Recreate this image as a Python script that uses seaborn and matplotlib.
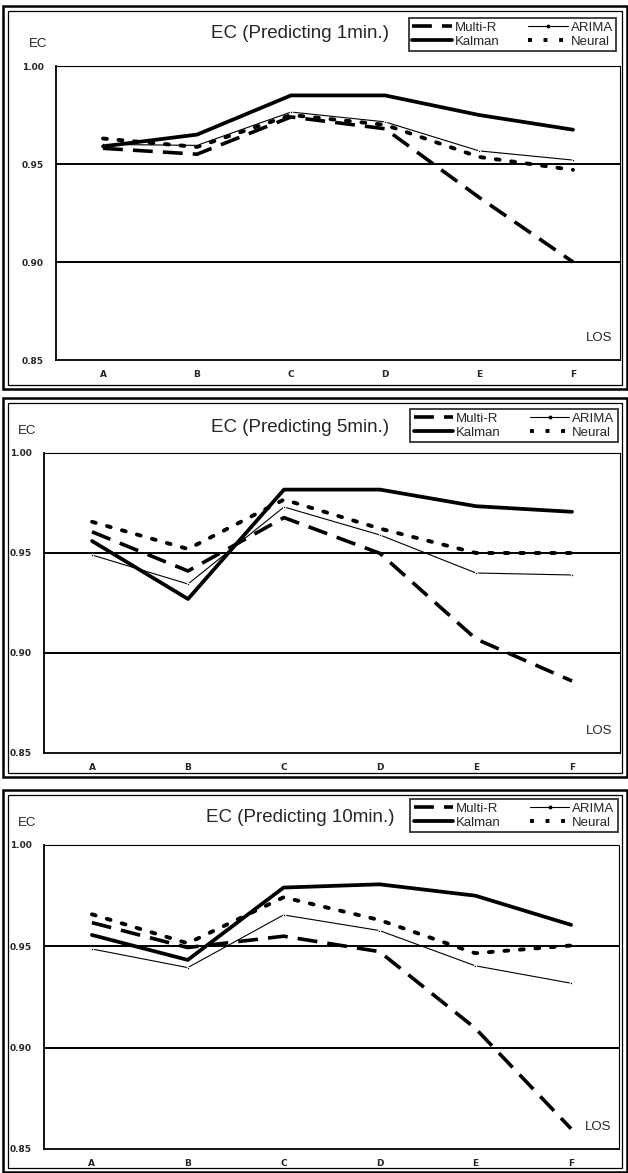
import numpy as np
import pandas as pd
import matplotlib
matplotlib.use("Agg")
import matplotlib.pyplot as plt
from matplotlib.lines import Line2D
from matplotlib.patches import Rectangle
import seaborn as sns

# ---------------- data ----------------
categories = ["A", "B", "C", "D", "E", "F"]
titles = ["EC (Predicting 1min.)", "EC (Predicting 5min.)", "EC (Predicting 10min.)"]
yticks = [0.85, 0.90, 0.95, 1.00]
ytick_labels = ["0.85", "0.90", "0.95", "1.00"]

multi_r_1 = [0.958, 0.955, 0.974, 0.968, 0.933, 0.900]
arima_1 = [0.960, 0.9595, 0.9765, 0.9715, 0.9567, 0.952]
kalman_1 = [0.959, 0.965, 0.985, 0.985, 0.975, 0.9675]
neural_1 = [0.963, 0.9587, 0.975, 0.970, 0.9536, 0.947]

multi_r_5 = [0.9606, 0.941, 0.9677, 0.9498, 0.907, 0.886]
arima_5 = [0.949, 0.9345, 0.973, 0.959, 0.940, 0.939]
kalman_5 = [0.956, 0.927, 0.9817, 0.9817, 0.9734, 0.9706]
neural_5 = [0.9656, 0.952, 0.9767, 0.9622, 0.950, 0.950]

multi_r_10 = [0.9617, 0.9494, 0.955, 0.9474, 0.9096, 0.860]
arima_10 = [0.9487, 0.9395, 0.9655, 0.9578, 0.9404, 0.9318]
kalman_10 = [0.9556, 0.9433, 0.979, 0.9806, 0.975, 0.9606]
neural_10 = [0.9658, 0.9515, 0.9742, 0.963, 0.9466, 0.9504]

panels = [
    {"Multi-R": multi_r_1, "ARIMA": arima_1, "Kalman": kalman_1, "Neural": neural_1},
    {"Multi-R": multi_r_5, "ARIMA": arima_5, "Kalman": kalman_5, "Neural": neural_5},
    {"Multi-R": multi_r_10, "ARIMA": arima_10, "Kalman": kalman_10, "Neural": neural_10},
]

# ---------------- style ----------------
sns.set_style("white")
FONT = ["Liberation Sans Narrow", "Liberation Sans", "DejaVu Sans"]
plt.rcParams["font.family"] = FONT

W, H = 628, 1173
fig = plt.figure(figsize=(W / 100, H / 100), dpi=100)
fig.patch.set_facecolor("white")

def fx(px):
    return px / W

def fy(py):
    return 1 - py / H

styles = {
    "Multi-R": dict(lw=2.6, linestyle=(0, (5.5, 2.8)), marker=None),
    "ARIMA": dict(lw=0.8, linestyle="-", marker="o", markersize=1.8),
    "Kalman": dict(lw=2.7, linestyle="-", marker=None),
    "Neural": dict(lw=2.8, linestyle=(0, (1, 3.0)), marker=None, dash_capstyle="round"),
}
draw_order = ["ARIMA", "Neural", "Multi-R", "Kalman"]

# layout in pixels: (axes left, axes right, y of 1.00, y of 0.85)
axes_px = [(56, 620, 66, 360), (44, 620, 453, 753), (44, 619, 845, 1149)]
frames_px = [(3, 6, 627, 389), (3, 398, 627, 777), (3, 790, 627, 1172)]
title_px = [(300, 33), (300, 427), (300, 817)]
legend_px = [(405, 17, 620, 52), (406, 407, 622, 444), (406, 797, 622, 834)]
ec_px = [(38, 44), (27, 431), (27, 823)]

for i, data in enumerate(panels):
    # frames (double border)
    x0, y0, x1, y1 = frames_px[i]
    fig.add_artist(Rectangle((fx(x0), fy(y1)), fx(x1 - x0), (y1 - y0) / H,
                             transform=fig.transFigure, fill=False, lw=1.8, ec="black"))
    fig.add_artist(Rectangle((fx(x0 + 5), fy(y1 - 4)), fx(x1 - x0 - 10), (y1 - y0 - 9) / H,
                             transform=fig.transFigure, fill=False, lw=0.9, ec="black"))

    l, r, t, b = axes_px[i]
    ax = fig.add_axes([fx(l), fy(b), fx(r - l), (b - t) / H])
    ax.set_facecolor("white")

    df = pd.DataFrame({"pos": np.arange(len(categories))})
    for name in draw_order:
        df[name] = data[name]
    long = df.melt(id_vars="pos", var_name="model", value_name="EC")

    for name in draw_order:
        sub = long[long["model"] == name]
        st = dict(styles[name])
        sns.lineplot(data=sub, x="pos", y="EC", ax=ax, color="black",
                     legend=False, sort=False, **st)

    ax.axhline(0.95, color="black", lw=1.4, zorder=1)
    ax.axhline(0.90, color="black", lw=1.4, zorder=1)

    ax.set_xlim(-0.5, len(categories) - 0.5)
    ax.set_ylim(0.85, 1.00)
    ax.set_xticks(np.arange(len(categories)), categories)
    ax.set_yticks(yticks, ytick_labels)
    ax.tick_params(axis="both", length=0, labelsize=6.5, pad=9)
    ax.tick_params(axis="x", pad=7)
    for lab in ax.get_xticklabels() + ax.get_yticklabels():
        lab.set_fontweight("bold")
        lab.set_family(["DejaVu Sans"])
    ax.set_xlabel("")
    ax.set_ylabel("")

    for s in ["left", "bottom"]:
        ax.spines[s].set_visible(True)
        ax.spines[s].set_color("black")
        ax.spines[s].set_linewidth(1.3)
    for s in ["top", "right"]:
        ax.spines[s].set_visible(True)
        ax.spines[s].set_color("black")
        ax.spines[s].set_linewidth(0.8)
        ax.spines[s].set_linestyle((0, (1, 1)))

    ax.text(5.28, 0.861, "LOS", ha="center", va="center", fontsize=9.5)

    # title and "EC" label
    tx, ty = title_px[i]
    fig.text(fx(tx), fy(ty), titles[i], ha="center", va="center", fontsize=13.5)
    ex, ey = ec_px[i]
    fig.text(fx(ex), fy(ey), "EC", ha="center", va="center", fontsize=9.5)

    # legend
    handles = {}
    for name in ["Multi-R", "ARIMA", "Kalman", "Neural"]:
        st = styles[name]
        handles[name] = Line2D([], [], color="black", lw=st["lw"], linestyle=st["linestyle"],
                               marker=st.get("marker"), markersize=st.get("markersize", 0))
    order = ["Multi-R", "Kalman", "ARIMA", "Neural"]
    lx0, ly0, lx1, ly1 = legend_px[i]
    leg = fig.legend([handles[n] for n in order], order, ncol=2,
                     loc="center", bbox_to_anchor=(fx((lx0 + lx1) / 2), fy((ly0 + ly1) / 2)),
                     bbox_transform=fig.transFigure, fontsize=9.5, frameon=True,
                     fancybox=False, edgecolor="black", handlelength=3.0,
                     handletextpad=0.2, columnspacing=2.2, borderpad=0.25,
                     labelspacing=0.15)
    leg.get_frame().set_linewidth(1.3)

fig.savefig("out.png", dpi=100, facecolor="white")
